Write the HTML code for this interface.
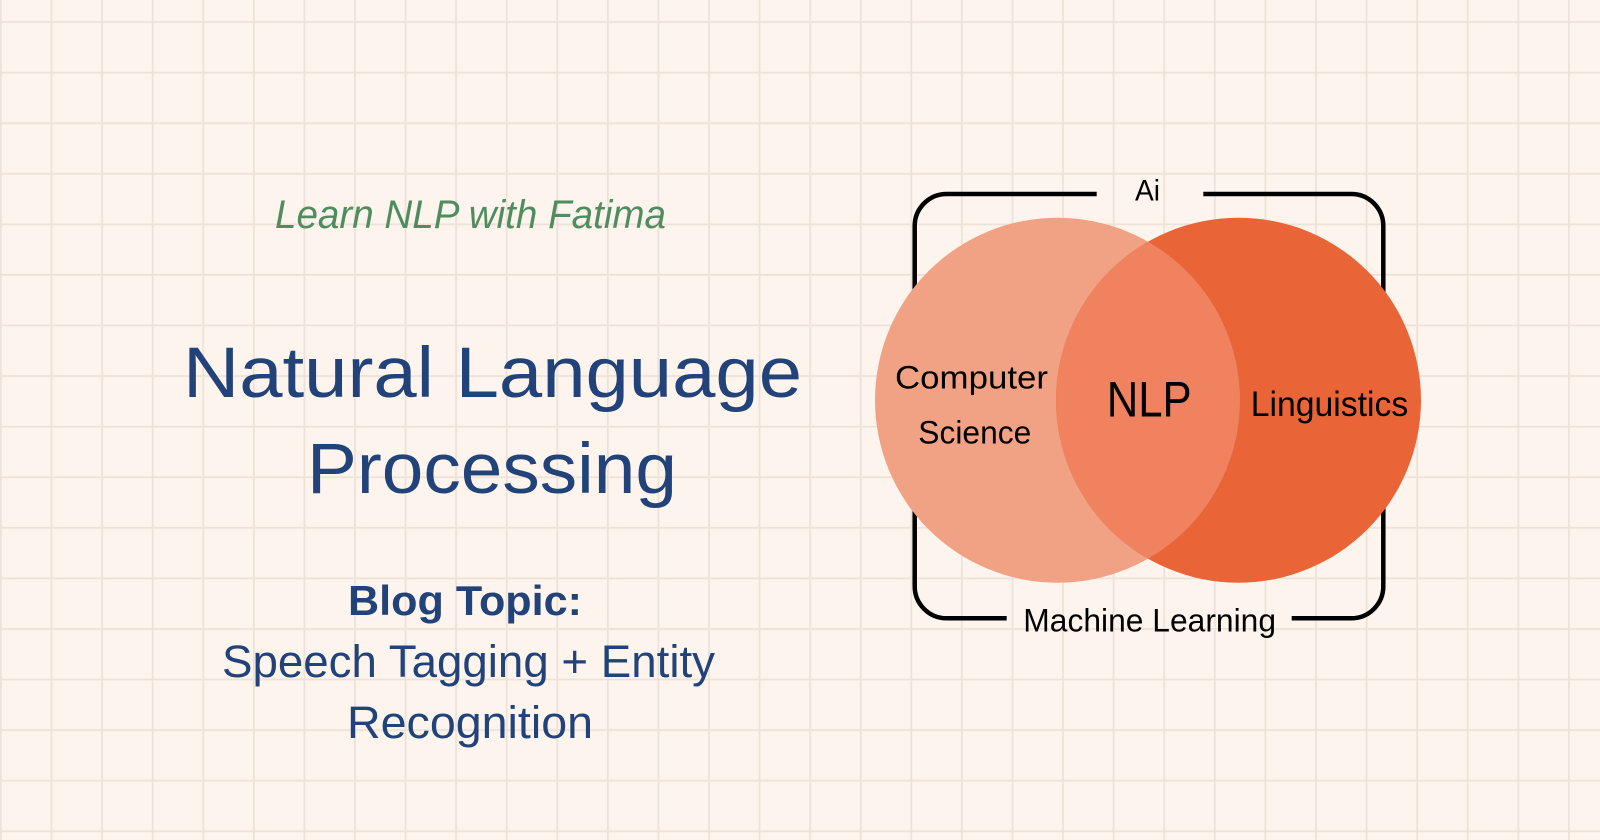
<!DOCTYPE html>
<html>
<head>
<meta charset="utf-8">
<style>
html,body{margin:0;padding:0;background:#fdf5ed;}
body{width:1600px;height:840px;overflow:hidden;}
svg{display:block;}
</style>
</head>
<body>
<svg width="1600" height="840" viewBox="0 0 1600 840" xmlns="http://www.w3.org/2000/svg">
  <defs>
    <pattern id="grid" x="0" y="21.1" width="50.58" height="50.58" patternUnits="userSpaceOnUse">
      <rect x="0" y="0" width="1.8" height="50.58" fill="#eee2d8"/>
      <rect x="0" y="0" width="50.58" height="1.8" fill="#eee2d8"/>
    </pattern>
    <clipPath id="leftClip">
      <circle cx="1057.5" cy="400.2" r="182.5"/>
    </clipPath>
  </defs>

  <rect x="0" y="0" width="1600" height="840" fill="#fdf5ed"/>
  <rect x="0" y="0" width="1600" height="840" fill="url(#grid)"/>

  <!-- Left text block -->
  <text x="275" y="228" font-family="'Liberation Sans', sans-serif" font-style="italic" font-size="40" fill="#4f8c5f" textLength="391" lengthAdjust="spacingAndGlyphs">Learn NLP with Fatima</text>

  <text x="183" y="397" font-family="'Liberation Sans', sans-serif" font-size="71" fill="#22427a" textLength="619" lengthAdjust="spacingAndGlyphs">Natural Language</text>
  <text x="307" y="493" font-family="'Liberation Sans', sans-serif" font-size="71" fill="#22427a" textLength="370" lengthAdjust="spacingAndGlyphs">Processing</text>

  <text x="348" y="615" font-family="'Liberation Sans', sans-serif" font-weight="bold" font-size="42" fill="#22427a" textLength="234" lengthAdjust="spacingAndGlyphs">Blog Topic:</text>
  <text x="222" y="677" font-family="'Liberation Sans', sans-serif" font-size="45" fill="#22427a" textLength="493" lengthAdjust="spacingAndGlyphs">Speech Tagging + Entity</text>
  <text x="347" y="738" font-family="'Liberation Sans', sans-serif" font-size="45" fill="#22427a" textLength="246" lengthAdjust="spacingAndGlyphs">Recognition</text>

  <!-- Frame -->
  <path d="M1096.7 194 L946.7 194 A32 32 0 0 0 914.7 226 L914.7 586.3 A32 32 0 0 0 946.7 618.3 L1006.7 618.3"
        fill="none" stroke="#000" stroke-width="4.5"/>
  <path d="M1291.7 618.3 L1351.3 618.3 A32 32 0 0 0 1383.3 586.3 L1383.3 226 A32 32 0 0 0 1351.3 194 L1203.3 194"
        fill="none" stroke="#000" stroke-width="4.5"/>

  <!-- Circles -->
  <circle cx="1057.5" cy="400.2" r="182.5" fill="#f1a184"/>
  <circle cx="1238.5" cy="400.2" r="182.5" fill="#e96437"/>
  <circle cx="1238.5" cy="400.2" r="182.5" fill="#f0825f" clip-path="url(#leftClip)"/>

  <!-- Venn labels -->
  <text x="1135" y="200.7" font-family="'Liberation Sans', sans-serif" font-size="30" fill="#000" textLength="25" lengthAdjust="spacingAndGlyphs">Ai</text>
  <text x="895" y="388.3" font-family="'Liberation Sans', sans-serif" font-size="32" fill="#000" textLength="153" lengthAdjust="spacingAndGlyphs">Computer</text>
  <text x="918.3" y="443.3" font-family="'Liberation Sans', sans-serif" font-size="32" fill="#000" textLength="113" lengthAdjust="spacingAndGlyphs">Science</text>
  <text x="1106.7" y="416.7" font-family="'Liberation Sans', sans-serif" font-size="50" fill="#000" textLength="85" lengthAdjust="spacingAndGlyphs">NLP</text>
  <text x="1250.7" y="416" font-family="'Liberation Sans', sans-serif" font-size="35" fill="#000" textLength="157.6" lengthAdjust="spacingAndGlyphs">Linguistics</text>
  <text x="1023.3" y="631.7" font-family="'Liberation Sans', sans-serif" font-size="32" fill="#000" textLength="252.7" lengthAdjust="spacingAndGlyphs">Machine Learning</text>
</svg>
</body>
</html>
